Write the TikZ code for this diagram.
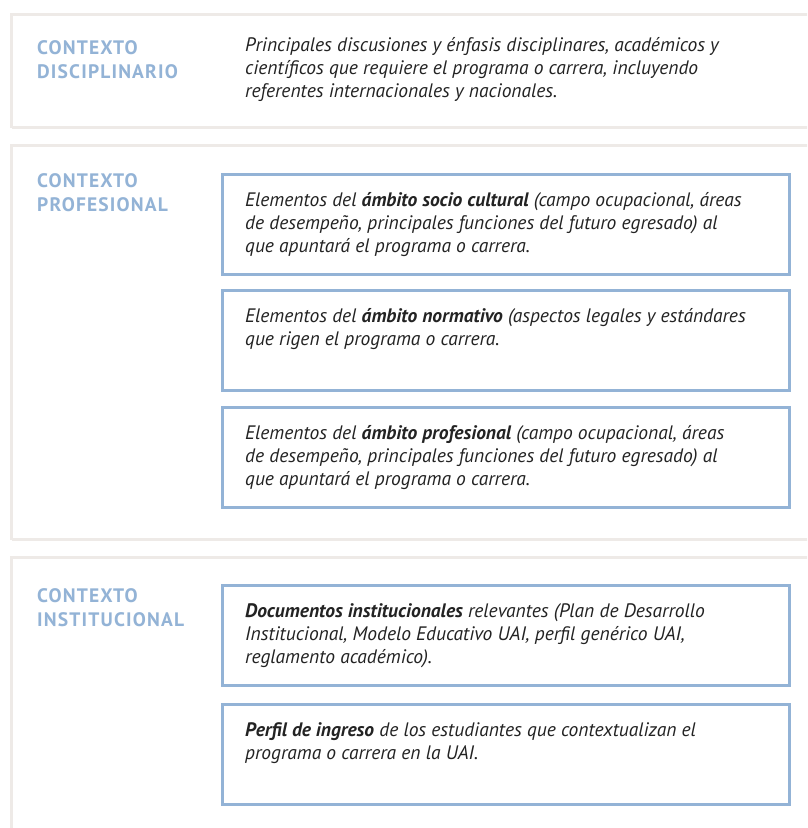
\documentclass[tikz,border=0pt]{standalone}
\usepackage{fontspec}
\setmainfont{PT Sans}
\newfontfamily\ctxfont[LetterSpace=6]{PT Sans}
\usepackage{tikz}
\usetikzlibrary{positioning}
\definecolor{uaiblue}{HTML}{93B3D6}
\definecolor{panelgray}{HTML}{EEEAE7}
\definecolor{ink}{HTML}{232323}

\begin{document}
\begin{tikzpicture}[
  x=1pt, y=-1pt,
  panel/.style={draw=panelgray, line width=3pt},
  cbox/.style={draw=uaiblue, line width=2.6pt, anchor=north west, inner sep=0pt, minimum width=567pt, minimum height=#1},
  cbox/.default=100pt,
  body/.style={anchor=base west, align=left, inner sep=0pt, text=ink, font=\fontsize{19.5}{23}\selectfont\itshape},
  ctx/.style={anchor=base west, align=left, inner sep=0pt, text=uaiblue, font=\ctxfont\bfseries\fontsize{19.5}{24}\selectfont},
  ]
\clip (0,0) rectangle (807,828);
\fill[white] (0,0) rectangle (807,828);
% panel: top y, bottom y (open on the right)
\newcommand{\ctxpanel}[2]{%
  \draw[panel] (11.5,#2) -- (11.5,#1) -- (830,#1) (11.5,#2) -- (830,#2);}
\ctxpanel{14.5}{127.5}
\ctxpanel{145.5}{539.5}
\ctxpanel{557.5}{850}
% labels (base = last line)
\node[ctx] (disc) at (37,78)  {CONTEXTO\\DISCIPLINARIO};
\node[ctx] (prof) at (37,211) {CONTEXTO\\PROFESIONAL};
\node[ctx] (inst) at (37,626) {CONTEXTO\\INSTITUCIONAL};
% disciplinary context
\node[body] (disctxt) at (245,97) {Principales discusiones y énfasis disciplinares, académicos y\\científicos que requiere el programa o carrera, incluyendo\\referentes internacionales y nacionales.};
% professional context
\node[cbox] (soc)  at (221.3,173.3) {};
\node[cbox] (norm) at (221.3,289.3) {};
\node[cbox] (amb)  at (221.3,406.3) {};
\node[body] (soctxt)  at (245,252) {Elementos del \textbf{ámbito socio cultural} (campo ocupacional, áreas\\de desempeño, principales funciones del futuro egresado) al\\que apuntará el programa o carrera.};
\node[body] (normtxt) at (245,345) {Elementos del \textbf{ámbito normativo} (aspectos legales y estándares\\que rigen el programa o carrera.};
\node[body] (ambtxt)  at (245,485) {Elementos del \textbf{ámbito profesional} (campo ocupacional, áreas\\de desempeño, principales funciones del futuro egresado) al\\que apuntará el programa o carrera.};
% institutional context
\node[cbox] (docs) at (221.3,584.3) {};
\node[cbox] (ing)  at (221.3,703.3) {};
\node[body] (docstxt) at (245,663) {\textbf{Documentos institucionales} relevantes (Plan de Desarrollo\\Institucional, Modelo Educativo UAI, perfil genérico UAI,\\reglamento académico).};
\node[body] (ingtxt)  at (245,759) {\textbf{Perfil de ingreso} de los estudiantes que contextualizan el\\programa o carrera en la UAI.};
\end{tikzpicture}
\end{document}
